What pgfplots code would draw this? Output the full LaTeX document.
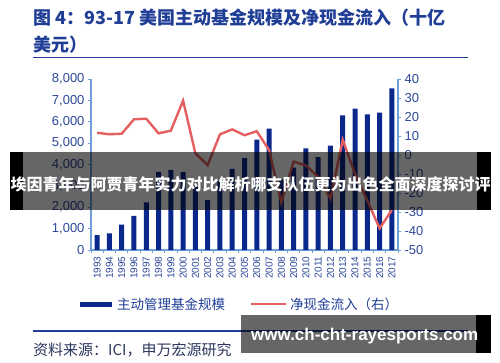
\documentclass[border=0pt]{standalone}
\usepackage{pgfplots}
\pgfplotsset{compat=1.18}
\usepackage{fontspec}
\setmainfont{Liberation Sans}
\newfontfamily\cjk{Noto Sans CJK SC}
\definecolor{titleblue}{RGB}{32,62,150}
\definecolor{tickblue}{RGB}{45,72,155}
\definecolor{axisblue}{RGB}{110,160,215}
\definecolor{barblue}{RGB}{10,40,140}
\definecolor{linered}{RGB}{228,95,95}
\definecolor{srcgrey}{RGB}{45,55,95}
\begin{document}
\begin{tikzpicture}[x=1pt,y=1pt]
\fill[white] (0,0) rectangle (500,362);
\node[anchor=west, inner sep=0, text=titleblue, font=\cjk\bfseries\fontsize{18}{20}\selectfont] at (33,344) {图 4：93-17 美国主动基金规模及净现金流入（十亿};
\node[anchor=west, inner sep=0, text=titleblue, font=\cjk\bfseries\fontsize{18}{20}\selectfont] at (33,317) {美元）};
\draw[titleblue, line width=1.3pt] (33,304.3) -- (468,304.3);

\begin{axis}[at={(91pt,112pt)}, anchor=south west, scale only axis,
  width=307pt, height=171pt,
  xmin=-0.5, xmax=24.5, ymin=0, ymax=8000,
  axis y line*=left, axis x line*=bottom,
  axis line style={draw=axisblue, line width=1.1pt},
  tick align=outside,
  ytick={0,1000,...,8000},
  /pgf/number format/assume math mode=true,
  /pgf/number format/1000 sep={,},
  yticklabel style={font=\fontsize{13}{13}\selectfont, text=tickblue},
  ytick style={draw=axisblue, line width=0.8pt},
  major tick length=3pt,
  xtick={0,...,24},
  xticklabels={1993,1994,1995,1996,1997,1998,1999,2000,2001,2002,2003,2004,2005,2006,2007,2008,2009,2010,2011,2012,2013,2014,2015,2016,2017},
  x tick label style={rotate=90, anchor=east, font=\fontsize{10}{10}\selectfont, text=tickblue},
  xtick style={draw=none},
  minor xtick={-0.5,0.5,...,24.5},
  minor x tick style={draw=axisblue, line width=0.8pt},
  minor tick length=3pt,
  ]
\addplot[ybar, bar width=5pt, fill=barblue, draw=none] coordinates {
(0,700) (1,780) (2,1190) (3,1600) (4,2230) (5,3650) (6,3750) (7,3650) (8,3000) (9,2330)
(10,3250) (11,3800) (12,4300) (13,5160) (14,5680) (15,3300) (16,3850) (17,4760) (18,4350) (19,4880)
(20,6300) (21,6620) (22,6340) (23,6430) (24,7560)};
\end{axis}

\begin{axis}[at={(91pt,112pt)}, anchor=south west, scale only axis,
  width=307pt, height=171pt,
  xmin=-0.5, xmax=24.5, ymin=-50, ymax=40,
  axis y line*=right, axis x line=none,
  axis line style={draw=axisblue, line width=1.1pt},
  tick align=outside,
  ytick={-50,-40,...,40},
  /pgf/number format/assume math mode=true,
  yticklabel style={font=\fontsize{13}{13}\selectfont, text=tickblue},
  ytick style={draw=axisblue, line width=0.8pt},
  major tick length=3pt,
  ]
\addplot[linered, line width=2.4pt, mark=none] coordinates {
(0,11.7) (1,10.9) (2,11.2) (3,18.8) (4,19.1) (5,11.4) (6,12.8) (7,28.6) (8,0.9) (9,-5.3)
(10,10.9) (11,13.5) (12,10.4) (13,12.5) (14,2.6) (15,-25) (16,-3.5) (17,-5.5) (18,-11.5) (19,-23)
(20,8) (21,-10) (22,-24) (23,-38.6) (24,-29)};
\end{axis}

% legend
\fill[barblue] (80,55.5) rectangle (112,60.5);
\node[anchor=west, inner sep=0, text=titleblue, font=\cjk\fontsize{13.5}{14}\selectfont] at (117,58) {主动管理基金规模};
\draw[linered, line width=2.4pt] (251,58) -- (286,58);
\node[anchor=west, inner sep=0, text=titleblue, font=\cjk\fontsize{13.5}{14}\selectfont] at (290,58) {净现金流入（右）};

% source
\draw[titleblue, line width=1.1pt] (33,31) -- (468,31);
\node[anchor=west, inner sep=0, text=srcgrey, font=\cjk\fontsize{15}{16}\selectfont] at (33,12) {资料来源：ICI，申万宏源研究};

% banner overlay
\fill[black, opacity=0.6] (23,152) rectangle (477,210);
\fill[black] (10,152) rectangle (23,210);
\fill[black] (477,152) rectangle (491,210);
\node[inner sep=0, text=white, font=\cjk\bfseries\fontsize{16}{16}\selectfont] at (250.5,177.5) {埃因青年与阿贾青年实力对比解析哪支队伍更为出色全面深度探讨评};

% website overlay
\fill[black, opacity=0.6] (241,9) rectangle (476,47);
\fill[black] (476,9) rectangle (491,47);
\node[anchor=west, inner sep=0, text=white, font=\bfseries\fontsize{17}{17}\selectfont] at (251,26) {www.ch-cht-rayesports.com};
\end{tikzpicture}
\end{document}
